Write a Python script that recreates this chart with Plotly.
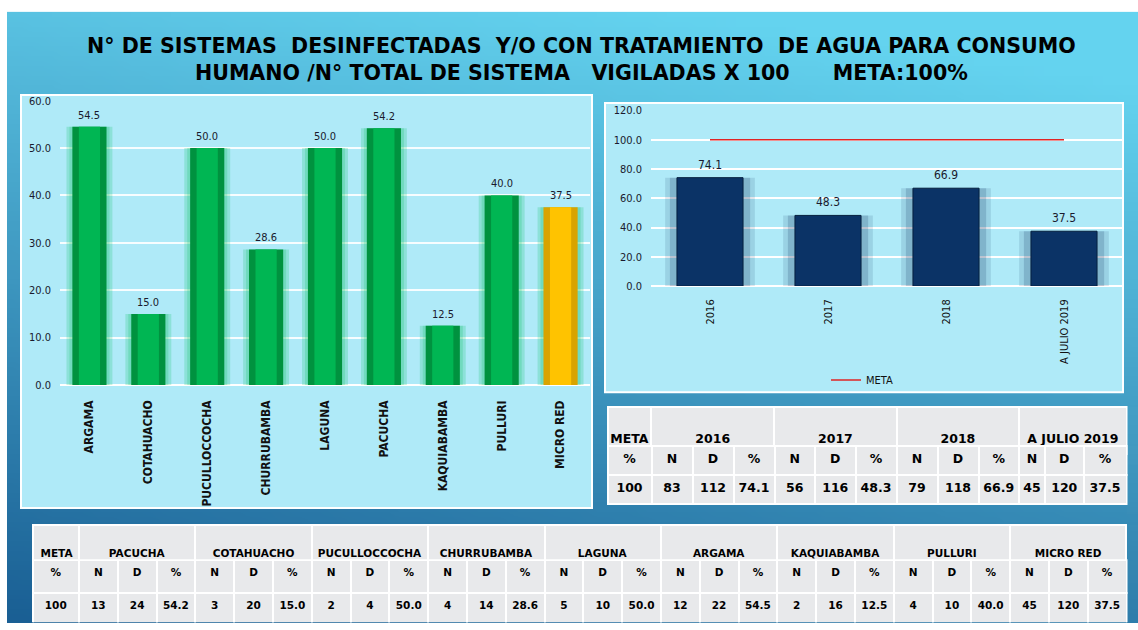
import base64
import struct
import zlib
import plotly.graph_objects as go

W, H = 1138, 630

# ---------------- data ----------------
sites_table = ["PACUCHA", "COTAHUACHO", "PUCULLOCCOCHA", "CHURRUBAMBA", "LAGUNA",
               "ARGAMA", "KAQUIABAMBA", "PULLURI", "MICRO RED"]
n_table = [13, 3, 2, 4, 5, 12, 2, 4, 45]
d_table = [24, 20, 4, 14, 10, 22, 16, 10, 120]
pct_table = [54.2, 15.0, 50.0, 28.6, 50.0, 54.5, 12.5, 40.0, 37.5]

chart_sites = ["ARGAMA", "COTAHUACHO", "PUCULLOCCOCHA", "CHURRUBAMBA", "LAGUNA",
               "PACUCHA", "KAQUIABAMBA", "PULLURI", "MICRO RED"]
chart_values = [pct_table[sites_table.index(s)] for s in chart_sites]

years = ["2016", "2017", "2018", "A JULIO 2019"]
year_n = [83, 56, 79, 45]
year_d = [112, 116, 118, 120]
year_pct = [74.1, 48.3, 66.9, 37.5]
meta_pct = 100

title_lines = ["N° DE SISTEMAS  DESINFECTADAS  Y/O CON TRATAMIENTO  DE AGUA PARA CONSUMO",
               "HUMANO /N° TOTAL DE SISTEMA   VIGILADAS X 100      META:100%"]


def fx(px):
    return px / W


def fy(py):
    return 1 - py / H


def nb(s):
    return s.replace(" ", "\u00a0")


# ---------------- background gradient image ----------------
def png_data_uri(w, h, fn):
    raw = bytearray()
    for j in range(h):
        raw.append(0)
        for i in range(w):
            raw += bytes(fn(i / (w - 1), j / (h - 1)))

    def chunk(t, d):
        c = struct.pack(">I", len(d)) + t + d
        return c + struct.pack(">I", zlib.crc32(t + d) & 0xffffffff)

    png = (b"\x89PNG\r\n\x1a\n"
           + chunk(b"IHDR", struct.pack(">IIBBBBB", w, h, 8, 2, 0, 0, 0))
           + chunk(b"IDAT", zlib.compress(bytes(raw), 9))
           + chunk(b"IEND", b""))
    return "data:image/png;base64," + base64.b64encode(png).decode()


top_c = (100, 211, 239)
bot_c = (26, 95, 148)


def grad(u, v):
    t = 0.85 * v + 0.25 * (1 - u) - 0.1
    t = max(0.0, min(1.0, t))
    return tuple(int(round(a * (1 - t) + b * t)) for a, b in zip(top_c, bot_c))


bg_uri = png_data_uri(114, 63, grad)

fig = go.Figure()

# ---------------- left chart ----------------
green_glow = "rgba(0,190,90,0.20)"
outer_cols = ["#d9a300" if s == "MICRO RED" else "#00923f" for s in chart_sites]
inner_cols = ["#ffc300" if s == "MICRO RED" else "#00b653" for s in chart_sites]

for wdt in (0.78, 0.68):
    fig.add_trace(go.Bar(x=chart_sites, y=chart_values, width=wdt, marker=dict(color=green_glow, line_width=0),
                         hoverinfo="skip", showlegend=False, xaxis="x", yaxis="y"))
fig.add_trace(go.Bar(x=chart_sites, y=chart_values, width=0.58, marker=dict(color=outer_cols, line_width=0),
                     hoverinfo="skip", showlegend=False, xaxis="x", yaxis="y"))
fig.add_trace(go.Bar(x=chart_sites, y=chart_values, width=0.36, marker=dict(color=inner_cols, line_width=0),
                     hoverinfo="skip", showlegend=False, xaxis="x", yaxis="y"))

# ---------------- right chart ----------------
for wdt, op in ((0.76, 0.12), (0.68, 0.18)):
    fig.add_trace(go.Bar(x=years, y=year_pct, width=wdt, marker=dict(color=f"rgba(10,45,90,{op})", line_width=0),
                         hoverinfo="skip", showlegend=False, xaxis="x2", yaxis="y2"))
fig.add_trace(go.Bar(x=years, y=year_pct, width=0.56,
                     marker=dict(color="#0b3366", line=dict(color="#06203f", width=1)),
                     hoverinfo="skip", showlegend=False, xaxis="x2", yaxis="y2"))
fig.add_trace(go.Scatter(x=years, y=[meta_pct] * len(years), mode="lines", name="META",
                         line=dict(color="#e02424", width=1.6), hoverinfo="skip",
                         xaxis="x2", yaxis="y2"))

lab_font = dict(family="DejaVu Sans Condensed", size=11, color="#1a1a2e")
annotations = []
for i, v in enumerate(chart_values):
    annotations.append(dict(x=i, y=v, xref="x", yref="y", text=f"{v:.1f}", showarrow=False,
                            yanchor="bottom", yshift=3, font=lab_font))
for i, v in enumerate(year_pct):
    annotations.append(dict(x=i, y=v, xref="x2", yref="y2", text=f"{v:.1f}", showarrow=False,
                            yanchor="bottom", yshift=4, font=dict(family="DejaVu Sans Condensed", size=12,
                                                                   color="#1a1a2e")))

annotations.append(dict(x=fx(581), y=fy(55), xref="paper", yref="paper", showarrow=False,
                        xanchor="center", yanchor="middle", align="center",
                        text="<br>".join(nb(l) for l in title_lines),
                        font=dict(family="DejaVu Sans", size=20.6, color="black", weight="bold")))

# ---------------- tables ----------------
fill = "#e8e9eb"
tline = dict(color="white", width=2)
font_r = dict(family="DejaVu Sans", size=12.5, color="black", weight="bold")
font_b = dict(family="DejaVu Sans", size=10.5, color="black", weight="bold")

# right table
fig.add_trace(go.Table(
    domain=dict(x=[fx(607.5), fx(1127)], y=[fy(470), fy(409)]),
    columnwidth=[44, 122.8, 122.5, 122.6, 107.4],
    header=dict(values=["\u00a0<br>" + nb(s) for s in ["META"] + years], height=40, fill_color=fill,
                line=tline, font=font_r, align="center"),
    cells=dict(values=[[] for _ in range(5)], height=1, fill_color=fill, line=tline),
))
sub_r = ["%"] + ["N", "D", "%"] * len(years)
vals_r = [str(meta_pct)]
for n, d, p in zip(year_n, year_d, year_pct):
    vals_r += [str(n), str(d), f"{p:.1f}"]
fig.add_trace(go.Table(
    domain=dict(x=[fx(607.5), fx(1127)], y=[fy(520), fy(449)]),
    columnwidth=[44, 41, 41, 41, 40.5, 40.5, 41, 41, 41, 40.5, 26, 38.5, 43],
    header=dict(values=[[s, v] for s, v in zip(sub_r, vals_r)], height=29, fill_color=fill, line=tline,
                font=font_r, align="center"),
    cells=dict(values=[[] for _ in sub_r], height=1, fill_color=fill, line=tline),
))

# bottom table
fig.add_trace(go.Table(
    domain=dict(x=[fx(32.5), fx(1127)], y=[fy(590), fy(530)]),
    columnwidth=[46.5] + [116.5] * len(sites_table),
    header=dict(values=["\u00a0<br>" + nb(s) for s in ["META"] + sites_table], height=35, fill_color=fill,
                line=tline, font=font_b, align=["left"] + ["center"] * len(sites_table)),
    cells=dict(values=[[] for _ in range(len(sites_table) + 1)], height=1, fill_color=fill, line=tline),
))
sub_b = ["%"] + ["N", "D", "%"] * len(sites_table)
vals_b = [str(meta_pct)]
for n, d, p in zip(n_table, d_table, pct_table):
    vals_b += [str(n), str(d), f"{p:.1f}"]
fig.add_trace(go.Table(
    domain=dict(x=[fx(32.5), fx(1127)], y=[0, fy(566)]),
    columnwidth=[46.5] + [38.83] * (3 * len(sites_table)),
    header=dict(values=[[s, v] for s, v in zip(sub_b, vals_b)], height=33, fill_color=fill, line=tline,
                font=font_b, align="center"),
    cells=dict(values=[[] for _ in sub_b], height=1, fill_color=fill, line=tline),
))

# ---------------- panels ----------------
shapes = [
    dict(type="rect", xref="paper", yref="paper", x0=fx(21), x1=fx(592), y0=fy(512.5), y1=fy(91),
         fillcolor="#afeaf8", line=dict(color="white", width=2), layer="below"),
    dict(type="rect", xref="paper", yref="paper", x0=fx(605), x1=fx(1123), y0=fy(394.5), y1=fy(99),
         fillcolor="#afeaf8", line=dict(color="white", width=2), layer="below"),
]

tick_font = dict(family="DejaVu Sans Condensed", size=11, color="#1a1a2e")
fig.update_layout(
    width=W, height=H, autosize=False,
    margin=dict(l=0, r=0, t=0, b=0),
    paper_bgcolor="white", plot_bgcolor="rgba(0,0,0,0)",
    barmode="overlay",
    images=[dict(source=bg_uri, xref="paper", yref="paper", x=fx(7), y=fy(6),
                 sizex=1 - fx(7), sizey=fy(6), xanchor="left", yanchor="top",
                 sizing="stretch", layer="below")],
    shapes=shapes,
    annotations=annotations,
    xaxis=dict(domain=[fx(60), fx(590)], type="category", range=[-0.5, len(chart_sites) - 0.5],
               tickangle=-90, showgrid=False, ticks="", showline=False, ticklabelstandoff=12,
               tickfont=dict(family="DejaVu Sans Condensed", size=12, color="#111", weight="bold")),
    yaxis=dict(domain=[fy(387), fy(96.7)], range=[0, 60], dtick=10, tickformat=".1f",
               showgrid=True, gridcolor="rgba(255,255,255,0.9)", gridwidth=2,
               zeroline=True, zerolinecolor="white", zerolinewidth=2,
               ticks="", showline=False, ticklabelstandoff=8, tickfont=tick_font),
    xaxis2=dict(domain=[fx(651), fx(1123)], type="category", range=[-0.5, len(years) - 0.5],
                tickangle=-90, showgrid=False, ticks="", showline=False, anchor="y2", ticklabelstandoff=10,
                tickfont=dict(family="DejaVu Sans Condensed", size=11, color="#111")),
    yaxis2=dict(domain=[fy(286), fy(106.7)], range=[0, 120], dtick=20, tickformat=".1f",
                showgrid=True, gridcolor="white", gridwidth=1.5, anchor="x2",
                zeroline=True, zerolinecolor="white", zerolinewidth=2,
                ticks="", showline=False, ticklabelstandoff=8, tickfont=tick_font),
    showlegend=True,
    legend=dict(x=fx(826), y=fy(367), xanchor="left", yanchor="top", orientation="h",
                bgcolor="rgba(0,0,0,0)", font=dict(family="DejaVu Sans Condensed", size=11, color="#111"),
                itemwidth=30),
)

fig.write_html("out.html", config={"displayModeBar": False},
               post_script="document.body.style.margin='0';")
